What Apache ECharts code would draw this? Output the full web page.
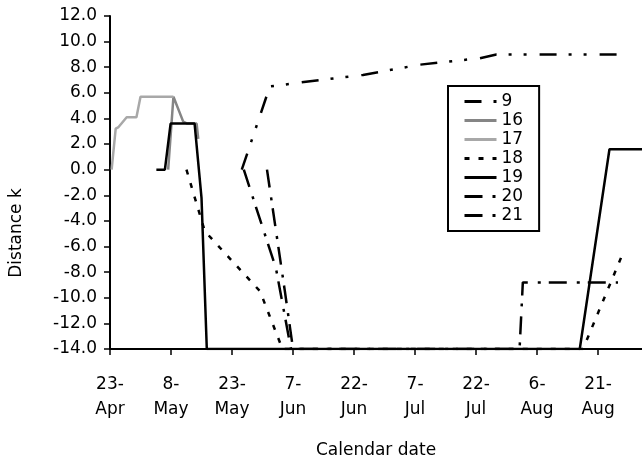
<!DOCTYPE html>
<html><head><meta charset="utf-8">
<script src="https://cdn.jsdelivr.net/npm/echarts@6/dist/echarts.min.js"></script>
<style>html,body{margin:0;padding:0;background:#fff}#c{width:642px;height:462px}</style>
</head><body><div id="c"></div>
<script>
// x values are days after 23 April
const xTickDays = [0, 15, 30, 45, 60, 75, 90, 105, 120];
const xTickLabels = ['23-\nApr', '8-\nMay', '23-\nMay', '7-\nJun', '22-\nJun', '7-\nJul', '22-\nJul', '6-\nAug', '21-\nAug'];
const seriesNames = ['9', '16', '17', '18', '19', '20', '21'];
const s9  = [[32.4, 0], [39.3, 6.5], [51.6, 7.0], [62.2, 7.4], [76.2, 8.2], [90.9, 8.7], [95.0, 9.0], [124.7, 9.0]];
const s16 = [[14.3, 0], [15.6, 5.7], [18.0, 3.75], [19.0, 3.6], [21.3, 3.6], [21.7, 2.4]];
const s17 = [[0.4, 0], [1.4, 3.2], [2.0, 3.3], [4.1, 4.1], [6.5, 4.1], [7.5, 5.7], [14.7, 5.7], [15.6, 5.7]];
const s18 = [[18.8, 0], [23.3, -4.8], [36.9, -9.5], [42.4, -14], [116.3, -14], [126.0, -6.6]];
const s19 = [[11.4, 0], [13.5, 0], [14.9, 3.6], [20.8, 3.6], [22.5, -2.2], [23.8, -14], [115.5, -14], [122.8, 1.6], [131.0, 1.6]];
const s20 = [[32.9, 0], [40.8, -7.7], [44.5, -14], [100.7, -14], [101.5, -8.8], [124.9, -8.8]];
const s21 = [[38.6, 0], [43.0, -9.5], [45.0, -14]];

const FONT = 'DejaVu Sans';
const chart = echarts.init(document.getElementById('c'), null, {renderer: 'canvas'});
function line(name, data, color, width, type) {
  return {
    name, type: 'line', data, symbol: 'none', animation: false,
    lineStyle: {color, width, type, cap: 'butt'}, itemStyle: {color}
  };
}
chart.setOption({
  backgroundColor: '#fff',
  animation: false,
  grid: {left: 110, right: 0, top: 16, bottom: 113, containLabel: false, outerBoundsMode: 'none'},
  xAxis: {
    type: 'value', min: 0, max: 130.8, interval: 15,
    name: 'Calendar date', nameLocation: 'middle', nameGap: 93,
    nameTextStyle: {fontFamily: FONT, fontSize: 17, color: '#000'},
    splitLine: {show: false},
    axisLine: {onZero: false, lineStyle: {color: '#000', width: 2}},
    axisTick: {inside: false, length: 6, lineStyle: {color: '#000', width: 1.5}, customValues: xTickDays},
    axisLabel: {
      customValues: xTickDays, margin: 23, lineHeight: 25,
      fontFamily: FONT, fontSize: 17, color: '#000',
      formatter: v => xTickLabels[xTickDays.indexOf(Math.round(v))] || ''
    }
  },
  yAxis: {
    type: 'value', min: -14, max: 12, interval: 2,
    splitLine: {show: false},
    axisLine: {show: true, onZero: false, lineStyle: {color: '#000', width: 2}},
    axisTick: {show: true, length: 6, lineStyle: {color: '#000', width: 1.5}},
    axisLabel: {margin: 13, fontFamily: FONT, fontSize: 17, color: '#000', formatter: v => v.toFixed(1)}
  },
  legend: {
    orient: 'vertical', left: 448, top: 86,
    data: seriesNames,
    itemWidth: 32, itemHeight: 12, itemGap: 2,
    padding: [7, 16, 7, 15],
    borderColor: '#000', borderWidth: 2, borderRadius: 0,
    backgroundColor: '#fff',
    itemStyle: {opacity: 0, color: 'rgba(0,0,0,0)', borderWidth: 0},
    lineStyle: {width: 3},
    textStyle: {fontFamily: FONT, fontSize: 17, color: '#000', lineHeight: 17, padding: [0, 0, 0, 0]}
  },
  graphic: [{
    type: 'text', x: 17, y: 233, rotation: Math.PI / 2,
    style: {text: 'Distance k', fontFamily: FONT, fontSize: 17, fill: '#000', align: 'center', verticalAlign: 'middle'}
  }],
  series: [
    line('9', s9, '#000', 2.5, [17, 12, 3, 12, 3, 13]),
    line('16', s16, '#858585', 2.5, 'solid'),
    line('17', s17, '#a8a8a8', 2.5, 'solid'),
    line('18', s18, '#000', 2.5, [5, 9]),
    line('19', s19, '#000', 2.5, 'solid'),
    line('20', s20, '#000', 2.5, [18, 10, 3, 8]),
    line('21', s21, '#000', 2.5, [18, 10, 3, 8])
  ]
});
</script></body></html>
